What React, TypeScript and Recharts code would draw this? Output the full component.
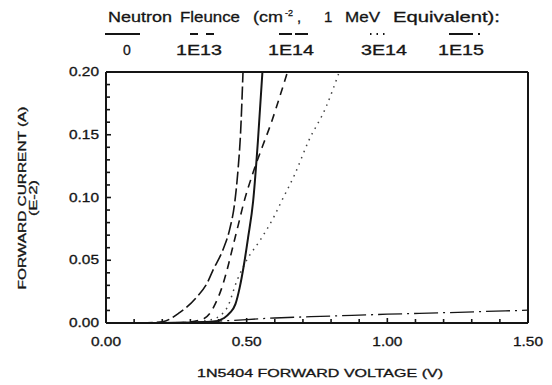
import React from "react";
import { LineChart, Line, XAxis, YAxis } from "recharts";

// forward voltage (V) / forward current (A, E-2)
const FLUENCE_0 = [
  { v: 0.2, i: 0 }, { v: 0.34, i: 0.0005 }, { v: 0.38, i: 0.001 }, { v: 0.42, i: 0.004 },
  { v: 0.44, i: 0.008 }, { v: 0.46, i: 0.015 }, { v: 0.475, i: 0.028 }, { v: 0.49, i: 0.046 },
  { v: 0.505, i: 0.068 }, { v: 0.523, i: 0.097 }, { v: 0.54, i: 0.145 }, { v: 0.556, i: 0.2 },
];
const FLUENCE_1E13 = [
  { v: 0.25, i: 0 }, { v: 0.33, i: 0.002 }, { v: 0.37, i: 0.008 }, { v: 0.39, i: 0.016 },
  { v: 0.41, i: 0.027 }, { v: 0.43, i: 0.042 }, { v: 0.45, i: 0.06 }, { v: 0.47, i: 0.078 },
  { v: 0.49, i: 0.096 }, { v: 0.52, i: 0.118 }, { v: 0.555, i: 0.14 }, { v: 0.585, i: 0.158 },
  { v: 0.62, i: 0.182 }, { v: 0.645, i: 0.2 },
];
const FLUENCE_1E14 = [
  { v: 0.12, i: 0 }, { v: 0.2, i: 0.001 }, { v: 0.26, i: 0.008 }, { v: 0.32, i: 0.02 },
  { v: 0.36, i: 0.032 }, { v: 0.38, i: 0.042 }, { v: 0.415, i: 0.058 }, { v: 0.44, i: 0.075 },
  { v: 0.457, i: 0.095 }, { v: 0.47, i: 0.124 }, { v: 0.478, i: 0.15 }, { v: 0.487, i: 0.2 },
];
const FLUENCE_3E14 = [
  { v: 0.28, i: 0 }, { v: 0.38, i: 0.003 }, { v: 0.43, i: 0.012 }, { v: 0.466, i: 0.034 },
  { v: 0.5, i: 0.05 }, { v: 0.548, i: 0.066 }, { v: 0.6, i: 0.086 }, { v: 0.626, i: 0.098 },
  { v: 0.67, i: 0.118 }, { v: 0.72, i: 0.145 }, { v: 0.78, i: 0.171 }, { v: 0.829, i: 0.2 },
];
const FLUENCE_1E15 = [
  { v: 0.2, i: 0 }, { v: 0.4, i: 0.0015 }, { v: 0.6, i: 0.004 }, { v: 0.8, i: 0.0055 },
  { v: 1.0, i: 0.007 }, { v: 1.2, i: 0.0082 }, { v: 1.5, i: 0.0102 },
];

const X_DOMAIN = [0, 1.5];
const Y_DOMAIN = [0, 0.2];
const X_TICKS = [0, 0.1, 0.2, 0.3, 0.4, 0.5, 0.6, 0.7, 0.8, 0.9, 1.0, 1.1, 1.2, 1.3, 1.4, 1.5];
const Y_TICKS = [
  0, 0.01, 0.02, 0.03, 0.04, 0.05, 0.06, 0.07, 0.08, 0.09, 0.1,
  0.11, 0.12, 0.13, 0.14, 0.15, 0.16, 0.17, 0.18, 0.19, 0.2,
];

const LEGEND = [
  { label: "0", x: 127, dash: undefined, line: [105, 140] },
  { label: "1E13", x: 199, dash: "8 8", line: [190, 218] },
  { label: "1E14", x: 291, dash: "13 3", line: [279, 309] },
  { label: "3E14", x: 384, dash: "1.5 5", line: [370, 388] },
  { label: "1E15", x: 461, dash: "24 5 2 5", line: [449, 482] },
];

const INK = "#151515";
const FONT = "'Liberation Sans', Arial, sans-serif";
const GAP = 8; // tickSize: the tick anchor sits this far outside the axis line
const AXIS_LINE = { stroke: INK, strokeWidth: 2 };
const HIDDEN_TICK_LINE = { stroke: "none" };

const isMajor = (v: number, step: number) =>
  Math.abs(v / step - Math.round(v / step)) < 1e-6;

// inward tick mark + label for the major ones
function XTick({ x, y, payload }: any) {
  const major = isMajor(payload.value, 0.5);
  const axisY = y - GAP;
  return (
    <g>
      <line x1={x} x2={x} y1={axisY} y2={axisY - (major ? 5 : 4)} stroke={INK} strokeWidth={1.6} />
      {major && (
        <text x={x} y={axisY + 23} textAnchor="middle" fontSize={12} fontFamily={FONT}
          fill={INK} stroke={INK} strokeWidth={0.3} textLength={30} lengthAdjust="spacingAndGlyphs">
          {payload.value.toFixed(2)}
        </text>
      )}
    </g>
  );
}

function YTick({ x, y, payload }: any) {
  const major = isMajor(payload.value, 0.05);
  const axisX = x + GAP;
  return (
    <g>
      <line x1={axisX} x2={axisX + (major ? 5 : 4)} y1={y} y2={y} stroke={INK} strokeWidth={1.6} />
      {major && (
        <text x={axisX - 7} y={y + 4} textAnchor="end" fontSize={12} fontFamily={FONT}
          fill={INK} stroke={INK} strokeWidth={0.3} textLength={30} lengthAdjust="spacingAndGlyphs">
          {payload.value.toFixed(2)}
        </text>
      )}
    </g>
  );
}

function Annotations() {
  return (
    <svg width={552} height={385} style={{ position: "absolute", left: 0, top: 0 }}
      fontFamily={FONT} fill={INK} stroke={INK} strokeWidth={0.3}>
      <text y={22} fontSize={15}>
        <tspan x={108} textLength={64} lengthAdjust="spacingAndGlyphs">Neutron</tspan>
        <tspan x={180} textLength={60} lengthAdjust="spacingAndGlyphs">Fleunce</tspan>
        <tspan x={253} textLength={30} lengthAdjust="spacingAndGlyphs">(cm</tspan>
        <tspan x={285} dy={-6} fontSize={9}>-2</tspan>
        <tspan x={297} dy={6}>,</tspan>
        <tspan x={324}>1</tspan>
        <tspan x={345} textLength={35} lengthAdjust="spacingAndGlyphs">MeV</tspan>
        <tspan x={393} textLength={107} lengthAdjust="spacingAndGlyphs">Equivalent):</tspan>
      </text>
      {LEGEND.map((l) => (
        <g key={l.label}>
          <line x1={l.line[0]} x2={l.line[1]} y1={34} y2={34} stroke={INK}
            strokeWidth={1.8} strokeDasharray={l.dash} />
          <text x={l.x} y={55} fontSize={14} textAnchor="middle"
            textLength={l.label.length > 1 ? 46 : undefined} lengthAdjust="spacingAndGlyphs">
            {l.label}
          </text>
        </g>
      ))}
      <text x={320} y={377} fontSize={11} textAnchor="middle" textLength={246}
        lengthAdjust="spacingAndGlyphs">
        1N5404 FORWARD VOLTAGE (V)
      </text>
      <text transform="translate(26,198) rotate(-90)" fontSize={11} textAnchor="middle"
        textLength={183} lengthAdjust="spacingAndGlyphs">
        FORWARD CURRENT (A)
      </text>
      <text transform="translate(37,198) rotate(-90)" fontSize={10} textAnchor="middle"
        textLength={36} lengthAdjust="spacingAndGlyphs">
        (E-2)
      </text>
    </svg>
  );
}

export default function App() {
  return (
    <div style={{ position: "absolute", left: 0, top: 0, width: 552, height: 385 }}>
      <Annotations />
      <div style={{ position: "absolute", left: 0, top: 0 }}>
        <LineChart width={552} height={385} margin={{ top: 71, right: 23, bottom: 32, left: 46 }}>
          <XAxis dataKey="v" type="number" domain={X_DOMAIN} ticks={X_TICKS} interval={0}
            height={30} axisLine={AXIS_LINE} tickLine={HIDDEN_TICK_LINE}
            tickSize={GAP} tickMargin={0} tick={<XTick />} />
          <YAxis dataKey="i" type="number" domain={Y_DOMAIN} ticks={Y_TICKS} interval={0}
            width={60} axisLine={AXIS_LINE} tickLine={HIDDEN_TICK_LINE}
            tickSize={GAP} tickMargin={0} tick={<YTick />} />
          {/* frame: top and right axes with only their axis line */}
          <XAxis xAxisId="top" orientation="top" type="number" domain={X_DOMAIN} height={1}
            axisLine={AXIS_LINE} tick={false} tickLine={false} />
          <YAxis yAxisId="right" orientation="right" type="number" domain={Y_DOMAIN} width={1}
            axisLine={AXIS_LINE} tick={false} tickLine={false} />
          <Line data={FLUENCE_1E15} dataKey="i" type="monotone" stroke={INK} strokeWidth={1.3}
            strokeDasharray="24 5 2 5" dot={false} isAnimationActive={false} />
          <Line data={FLUENCE_3E14} dataKey="i" type="monotone" stroke="#444" strokeWidth={1.5}
            strokeDasharray="1.5 5" dot={false} isAnimationActive={false} />
          <Line data={FLUENCE_1E14} dataKey="i" type="monotone" stroke={INK} strokeWidth={1.6}
            strokeDasharray="13 4" dot={false} isAnimationActive={false} />
          <Line data={FLUENCE_1E13} dataKey="i" type="monotone" stroke={INK} strokeWidth={1.6}
            strokeDasharray="8 6" dot={false} isAnimationActive={false} />
          <Line data={FLUENCE_0} dataKey="i" type="monotone" stroke={INK} strokeWidth={2}
            dot={false} isAnimationActive={false} />
        </LineChart>
      </div>
    </div>
  );
}
